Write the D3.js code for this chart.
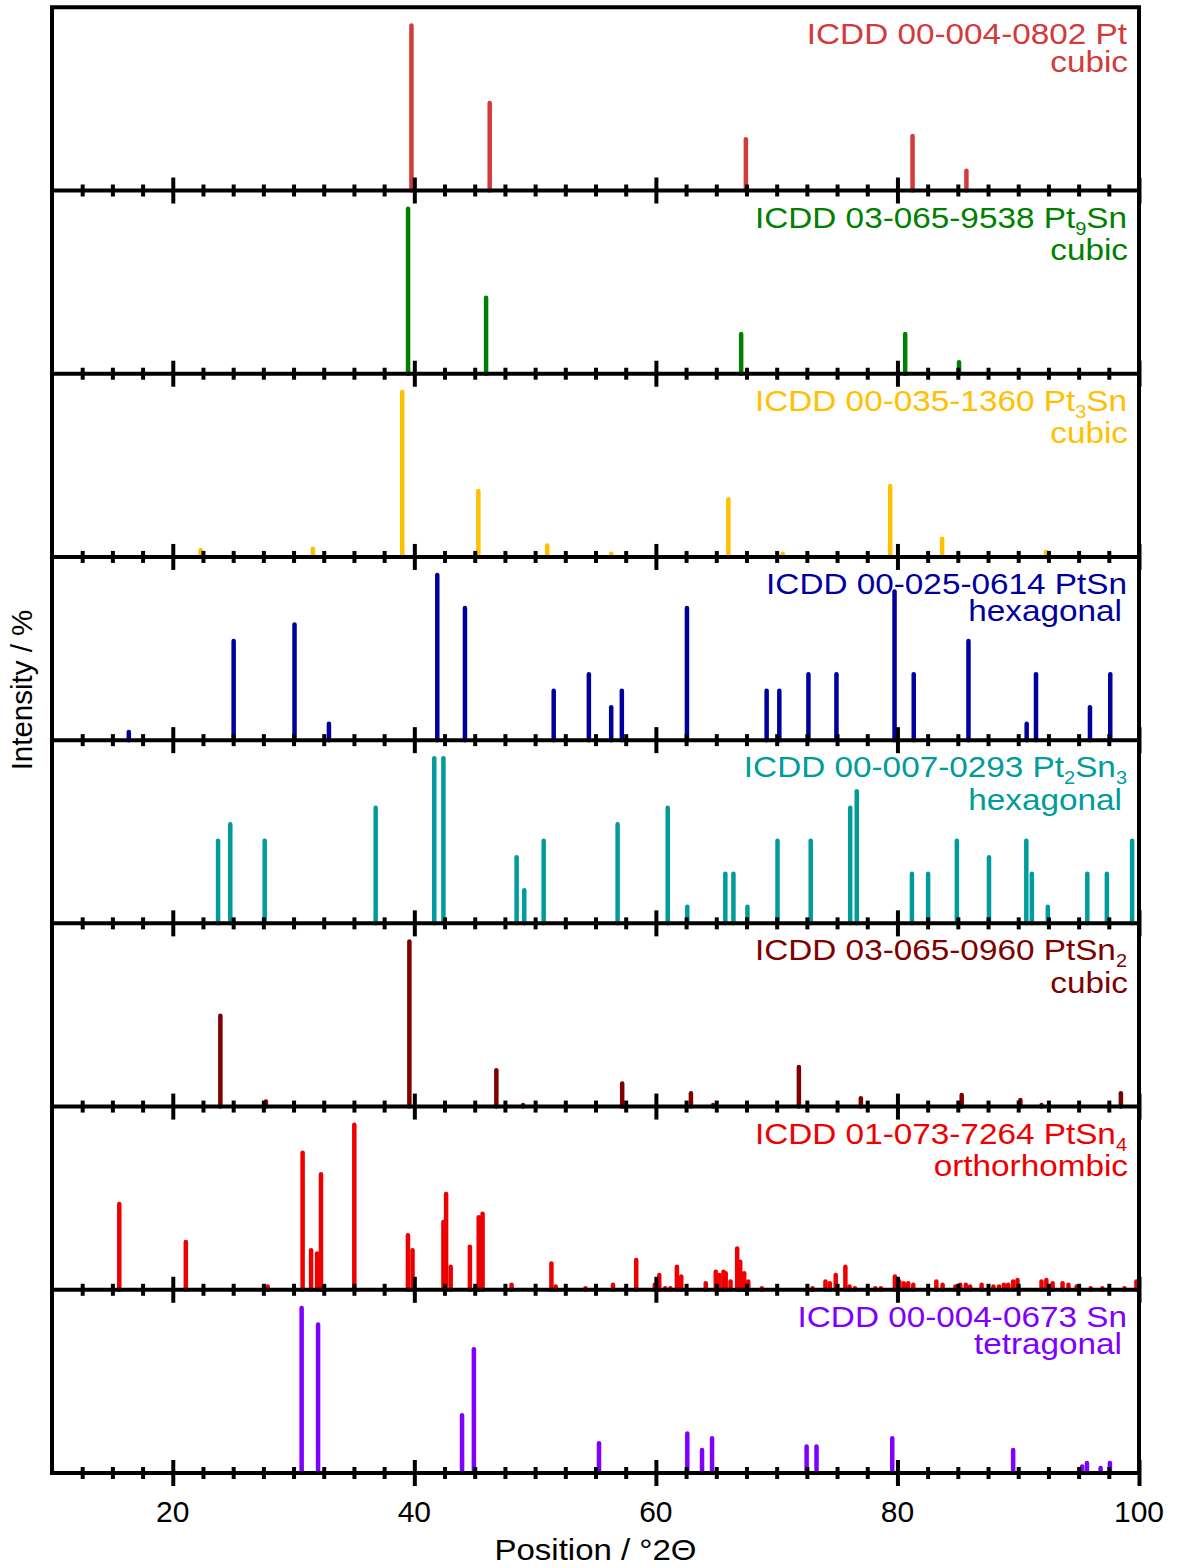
<!DOCTYPE html>
<html>
<head>
<meta charset="utf-8">
<script src="https://cdn.jsdelivr.net/npm/d3@7"></script>
<style>
  html, body { margin: 0; padding: 0; background: #fff; }
  text { font-family: "Liberation Sans", Arial, sans-serif; }
</style>
</head>
<body>
<svg id="chart" width="1179" height="1568"></svg>
<script>
// ---- data: [2theta, relative intensity %] ----
const ptPeaks = [[39.76,100],[46.24,53],[67.45,31],[81.25,33],[85.71,12]];
const pt9snPeaks = [[39.48,100],[45.94,46],[67.06,24],[80.64,24],[85.10,7]];
const pt3snPeaks = [[22.3,4],[31.6,5],[39.0,100],[45.3,40],[51.0,7],[56.3,2],[66.0,35],[70.5,2],[79.4,43],[83.7,11],[92.3,3]];
const ptsnPeaks = [[16.36,5],[25.04,60],[30.08,70],[32.93,10],[41.9,100],[44.19,80],[51.54,30],[54.45,40],[56.3,20],[57.18,30],[62.57,80],[69.17,30],[70.22,30],[72.63,40],[74.95,40],[79.76,90],[81.35,40],[85.88,60],[90.70,10],[91.47,40],[95.94,20],[97.62,40]];
const pt2sn3Peaks = [[23.75,50],[24.76,60],[27.61,50],[36.80,70],[41.65,100],[42.41,100],[48.47,40],[49.10,20],[50.71,50],[56.83,60],[60.98,70],[62.60,10],[65.75,30],[66.42,30],[67.58,10],[70.07,50],[72.82,50],[76.09,70],[76.63,80],[81.20,30],[82.54,30],[84.92,50],[87.58,40],[90.67,50],[91.13,30],[92.45,10],[95.72,30],[97.34,30],[99.43,50]];
const ptsn2Peaks = [[23.94,55],[27.71,3],[39.59,100],[46.79,22],[49.0,1],[57.21,14],[62.9,8],[64.74,1],[71.84,24],[76.97,5],[85.32,7],[90.18,4],[91.93,1],[98.5,8]];
const ptsn4Peaks = [[15.57,52],[21.08,29],[27.86,2],[30.75,83],[31.45,24],[31.95,22],[32.27,70],[35.03,100],[39.47,33],[39.85,24],[42.41,41],[42.63,58],[43.01,14],[44.60,26],[45.33,44],[45.65,46],[48.05,3],[51.35,16],[51.70,2],[54.17,1],[56.45,3],[57.52,1],[58.37,18],[59.91,3],[60.28,9],[60.77,1],[61.2,1],[61.74,14],[62.10,8],[64.13,4],[64.96,11],[65.26,9],[65.60,11],[65.78,10],[66.18,5],[66.73,25],[66.98,17],[67.31,10],[67.65,5],[68.77,1],[72.97,1],[74.04,5],[74.40,4],[74.89,9],[75.69,14],[76.03,2],[76.48,1],[78.17,1],[78.63,1],[79.79,8],[80.16,5],[80.52,4],[80.89,4],[81.31,3],[83.22,5],[83.74,3],[84.80,2],[85.20,3],[85.66,3],[86.02,2],[86.97,3],[87.95,2],[88.41,2],[88.81,3],[89.17,3],[89.58,5],[89.94,6],[91.93,5],[92.33,6],[92.85,4],[93.67,4],[94.16,3],[94.84,2],[96.0,1],[96.97,1],[98.8,1],[99.79,5]];
const snPeaks = [[30.67,100],[32.03,90],[43.95,35],[44.93,75],[55.29,18],[62.6,24],[63.82,14],[64.65,21],[72.48,16],[73.3,16],[79.57,21],[89.58,14],[95.29,4],[95.69,6],[96.82,3],[97.59,6]];

const titles = ["ICDD 00-004-0802 Pt","ICDD 03-065-9538 Pt_9Sn","ICDD 00-035-1360 Pt_3Sn","ICDD 00-025-0614 PtSn","ICDD 00-007-0293 Pt_2Sn_3","ICDD 03-065-0960 PtSn_2","ICDD 01-073-7264 PtSn_4","ICDD 00-004-0673 Sn"];
const systems = ["cubic","cubic","cubic","hexagonal","hexagonal","cubic","orthorhombic","tetragonal"];
const colors = ["#d43a3a","#008000","#ffc000","#00009c","#009c9c","#800000","#ee0000","#8000ff"];
const peakSets = [ptPeaks, pt9snPeaks, pt3snPeaks, ptsnPeaks, pt2sn3Peaks, ptsn2Peaks, ptsn4Peaks, snPeaks];
const majorTicks = [20,40,60,80,100];
const tickLabels = ["20","40","60","80","100"];
const xLabel = "Position / °2Θ";
const yLabel = "Intensity / %";

// ---- layout ----
const plotLeft = 52, plotRight = 1139, plotTop = 7.3, plotBottom = 1473;
const nP = peakSets.length;
const pH = (plotBottom - plotTop) / nP;
const svg = d3.select("#chart");
const x = d3.scaleLinear().domain([10, 100]).range([plotLeft, plotRight]);
const minorTicks = d3.range(12.5, 100, 2.5).filter(v => v % 20 !== 0);
const stretch = 1.11;

peakSets.forEach((peaks, i) => {
  const base = plotTop + (i + 1) * pH;
  const pTop = base - pH;
  const y = d3.scaleLinear().domain([0, 111]).range([base, pTop]);
  const g = svg.append("g");
  g.selectAll("line.bar").data(peaks).join("line")
    .attr("class", "bar")
    .attr("x1", d => x(d[0])).attr("x2", d => x(d[0]))
    .attr("y1", y(0)).attr("y2", d => y(d[1]))
    .attr("stroke", colors[i]).attr("stroke-width", 4.5)
    .attr("stroke-linecap", "round");

  // title
  const hasSub = titles[i].includes("_");
  const t1 = g.append("text")
    .attr("transform", `translate(1127,${pTop + 37}) scale(${stretch},1)`)
    .attr("text-anchor", "end").attr("font-size", 30).attr("fill", colors[i]);
  const parts = titles[i].split(/_(\d)/);
  parts.forEach((p, k) => {
    if (p === "") return;
    if (k % 2 === 1) {
      t1.append("tspan").attr("font-size", 18).attr("dy", 7).text(p);
    } else {
      const ts = t1.append("tspan").text(p);
      if (k > 0) ts.attr("dy", -7);
    }
  });
  const x2 = systems[i].endsWith("l") ? 1122 : 1128;
  g.append("text")
    .attr("transform", `translate(${x2},${pTop + (hasSub ? 69.5 : 64.5)}) scale(${stretch},1)`)
    .attr("text-anchor", "end").attr("font-size", 30).attr("fill", colors[i])
    .text(systems[i]);
});

// frame and tick axes
const axesG = svg.append("g");
for (let i = 1; i <= nP; i++) {
  const base = plotTop + i * pH;
  const minorAxis = d3.axisBottom(x).tickValues(minorTicks).tickSize(6).tickFormat("");
  const ga = axesG.append("g").attr("transform", `translate(0,${base})`).call(minorAxis);
  ga.select(".domain").remove();
  ga.selectAll(".tick line").attr("y1", -6).attr("y2", 6).attr("stroke", "#000").attr("stroke-width", 4);
  const majorAxis = d3.axisBottom(x).tickValues(majorTicks).tickSize(13).tickFormat("");
  const gm = axesG.append("g").attr("transform", `translate(0,${base})`).call(majorAxis);
  gm.select(".domain").remove();
  gm.selectAll(".tick line").attr("y1", -13).attr("y2", 13).attr("stroke", "#000").attr("stroke-width", 4);
  axesG.append("line").attr("x1", plotLeft).attr("x2", plotRight).attr("y1", base).attr("y2", base)
    .attr("stroke", "#000").attr("stroke-width", 4);
}
axesG.append("path")
  .attr("d", `M${plotLeft},${plotBottom + 2}V${plotTop}H${plotRight}V${plotBottom + 2}`)
  .attr("fill", "none").attr("stroke", "#000").attr("stroke-width", 4)
  .attr("stroke-linejoin", "miter");

// tick labels
svg.append("g").selectAll("text").data(majorTicks).join("text")
  .attr("x", d => x(d)).attr("y", 1522)
  .attr("text-anchor", "middle").attr("font-size", 30).attr("fill", "#000")
  .text((d, k) => tickLabels[k]);

svg.append("text")
  .attr("transform", `translate(${(plotLeft + plotRight) / 2},1560) scale(1.1,1)`)
  .attr("text-anchor", "middle").attr("font-size", 30).attr("fill", "#000").text(xLabel);

svg.append("text").attr("transform", "translate(32,690) rotate(-90)")
  .attr("text-anchor", "middle").attr("font-size", 29.5).attr("fill", "#000").text(yLabel);
</script>
</body>
</html>
